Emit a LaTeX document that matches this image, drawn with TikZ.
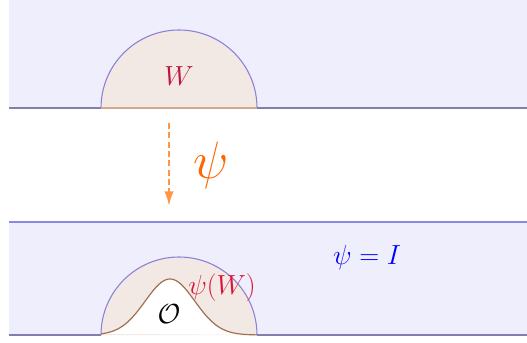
\documentclass[tikz,border=0pt]{standalone}
\usepackage{amsmath,amssymb}
\usepackage{xcolor}
\usepackage{tikz}
\usetikzlibrary{positioning,arrows.meta}

\definecolor{regionbg}{RGB}{238,238,252}
\definecolor{edgeline}{RGB}{128,128,176}
\definecolor{edgelight}{RGB}{136,136,232}
\definecolor{halfdisc}{RGB}{243,233,228}
\definecolor{discline}{RGB}{140,128,216}
\definecolor{baseedge}{RGB}{208,168,144}
\definecolor{obstline}{RGB}{160,112,80}
\definecolor{wlabel}{RGB}{192,20,60}
\definecolor{psilabel}{RGB}{220,20,60}
\definecolor{maporange}{RGB}{255,150,70}
\definecolor{psiorange}{RGB}{255,102,0}

\begin{document}
\begin{tikzpicture}[x=0.75pt, y=-0.75pt,
  every node/.style={font=\huge},
  region/.style={fill=regionbg, draw=none},
  boundary/.style={draw=edgeline, line width=1.3pt},
  disc/.style={fill=halfdisc, draw=discline, line width=0.8pt},
  maparrow/.style={draw=maporange, line width=1.5pt, dash pattern=on 4.5pt off 2.5pt, -{Latex[length=11pt,width=7pt]}}]
\useasboundingbox (0,0) rectangle (527,342);

% upper half space with the set W
\fill[region] (9,0) rectangle (527,108);
\draw[disc] (101,108) arc (180:360:78);
\draw[baseedge, line width=1pt] (101,108) -- (257,108);
\draw[boundary] (9,108) -- (101,108) (257,108) -- (527,108);
\node[text=wlabel] (w) at (179,76) {$W$};

% the map
\coordinate (from) at (169,123);
\coordinate (to) at (169,206);
\draw[maparrow] (from) -- (to);
\node[text=psiorange, scale=1.9] (psi) at (211,165) {$\psi$};

% lower half space, image of W around the obstacle
\fill[region] (9,222) rectangle (527,335);
\draw[edgelight, line width=0.8pt] (9,222) -- (527,222);
\draw[disc] (101,335) arc (180:360:78);
\fill[white, draw=obstline, line width=0.9pt] plot[domain=101:257, samples=80, smooth]
  (\x, {335-56*exp(-((\x-170)/35)^2)});
\draw[boundary] (9,335) -- (101,335) (257,335) -- (527,335);
\node (obst) at (169,314) {$\mathcal{O}$};
\node[text=psilabel] (psiw) at (222,288) {$\psi(W)$};
\node[text=blue] (ident) at (367,258) {$\psi = I$};
\end{tikzpicture}
\end{document}
